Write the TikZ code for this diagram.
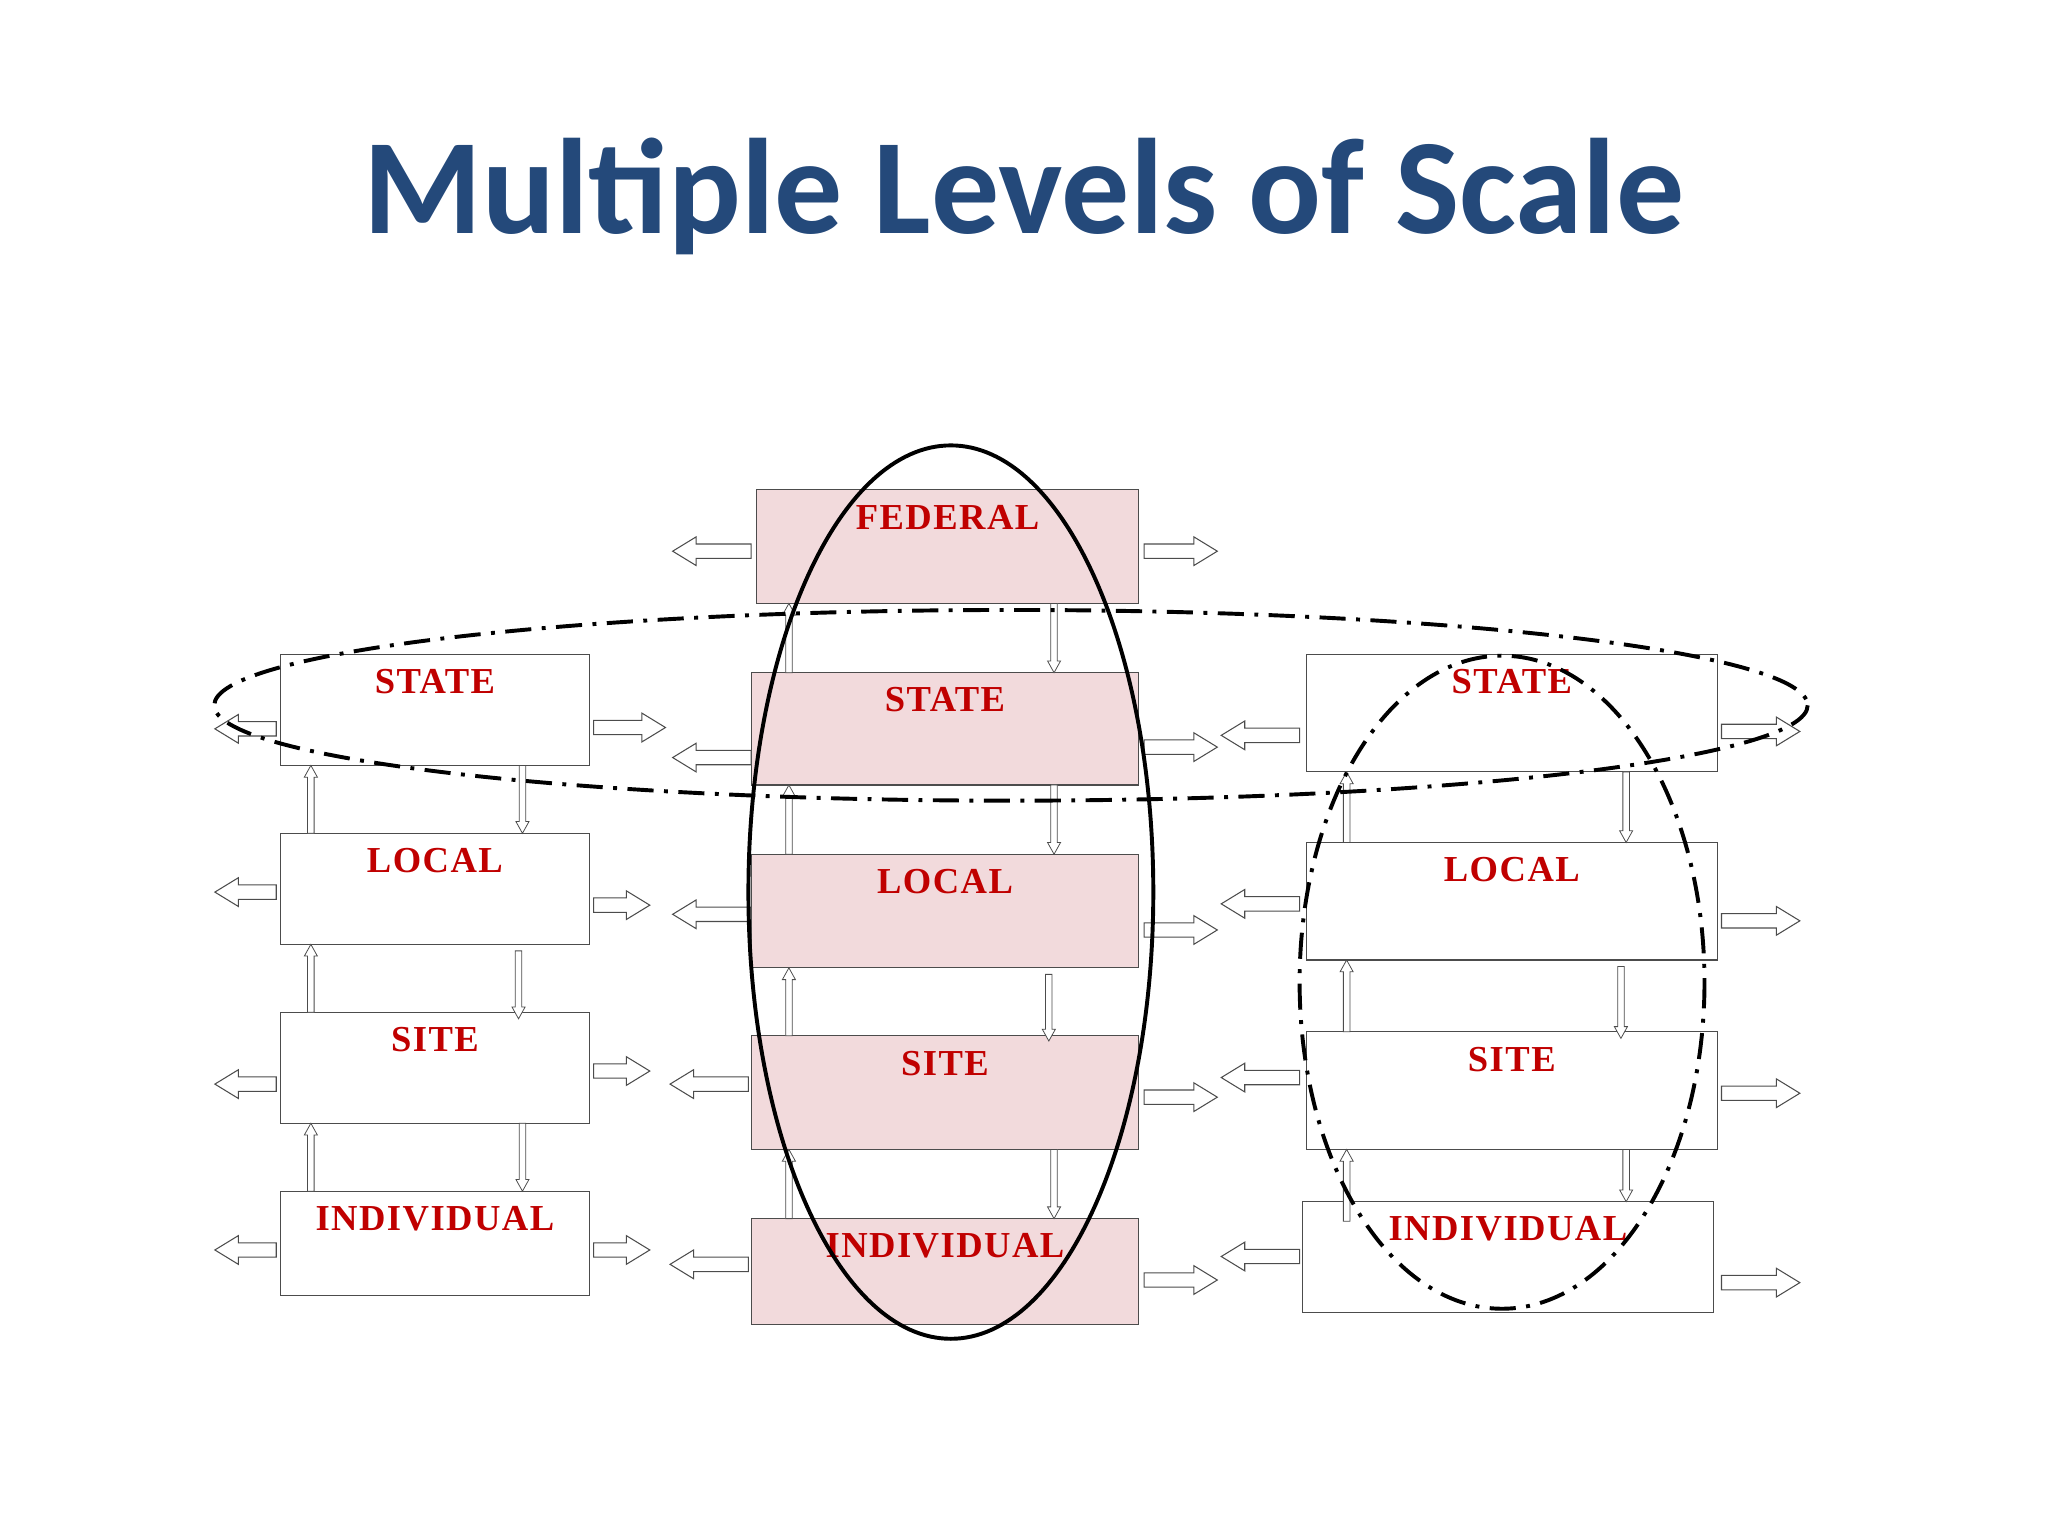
\documentclass[tikz,border=0pt]{standalone}
\usepackage{fontspec}
\setmainfont{Liberation Serif}
\newfontfamily\titlefont{Carlito}
\newfontfamily\lblfont[LetterSpace=4]{Liberation Serif}
\definecolor{titleblue}{HTML}{24497A}
\definecolor{boxred}{HTML}{C00000}
\definecolor{pinkfill}{HTML}{F2DADC}
\begin{document}
\begin{tikzpicture}[x=1pt,y=-1pt,
  lvl/.style={draw=black!70, line width=0.8pt},
  lbl/.style={text=boxred, font=\lblfont\bfseries\fontsize{28}{32}\selectfont},
  arr/.style={draw=black!70, fill=white, line width=0.8pt, line join=miter},
  dd/.style={line width=3pt, dash pattern=on 20pt off 8pt on 3pt off 8pt}]
\useasboundingbox (0,0) rectangle (1568,1176);
\node (title) at (784,150) {\titlefont\bfseries\color{titleblue}\fontsize{104}{118}\selectfont Multiple Levels of Scale};
\foreach \n/\xa/\ya/\xb/\yb/\t/\f in {
 ls/215/501/451/586/STATE/white, ll/215/638/451/723/LOCAL/white, lsi/215/775/451/860/SITE/white, li/215/912/451/992/INDIVIDUAL/white,
 mf/579/375/872/462/FEDERAL/pinkfill, ms/575/515/872/601/STATE/pinkfill, ml/575/654/872/741/LOCAL/pinkfill, msi/575/793/872/880/SITE/pinkfill, mi/575/933/872/1014/INDIVIDUAL/pinkfill,
 rs/1000/501/1315/591/STATE/white, rl/1000/645/1315/735/LOCAL/white, rsi/1000/790/1315/880/SITE/white, ri/997/920/1312/1005/INDIVIDUAL/white}{
  \draw[lvl, fill=\f] (\xa,\ya) rectangle (\xb,\yb);
  \node[lbl, anchor=north] (\n) at ({(\xa+\xb)/2},\ya+8) {\t};
}
\foreach \x/\y/\l/\s in {
 188/558/47/-1, 482/557/55/1, 188/683/47/-1, 476/693/43/1, 188/830/47/-1, 476/820/43/1, 188/957/47/-1, 476/957/43/1,
 545/422/60/-1, 545/580/60/-1, 545/700/60/-1, 543/830/60/-1, 543/968/60/-1,
 904/422/56/1, 904/572/56/1, 904/712/56/1, 904/840/56/1, 904/980/56/1,
 965/563/60/-1, 965/692/60/-1, 965/825/60/-1, 965/962/60/-1,
 1348/560/60/1, 1348/705/60/1, 1348/837/60/1, 1348/982/60/1}{
  \pgfmathsetmacro\tip{\x+\s*\l/2}
  \pgfmathsetmacro\tail{\x-\s*\l/2}
  \pgfmathsetmacro\hb{\tip-\s*18}
  \draw[arr] (\tail,\y-5.5) -- (\hb,\y-5.5) -- (\hb,\y-11) -- (\tip,\y) -- (\hb,\y+11) -- (\hb,\y+5.5) -- (\tail,\y+5.5) -- cycle;
}
\foreach \x/\ya/\yb/\s in {
 238/586/638/-1, 400/586/638/1, 238/723/775/-1, 397/728/780/1, 238/860/912/-1, 400/860/912/1,
 604/462/515/-1, 807/462/515/1, 604/601/654/-1, 807/601/654/1, 604/741/793/-1, 803/746/797/1, 604/880/933/-1, 807/880/933/1,
 1031/591/645/-1, 1245/591/645/1, 1031/735/790/-1, 1241/740/795/1, 1031/880/935/-1, 1245/880/920/1}{
  \pgfmathsetmacro\tip{\s>0 ? \yb : \ya}
  \pgfmathsetmacro\tail{\s>0 ? \ya : \yb}
  \pgfmathsetmacro\hb{\tip-\s*9}
  \draw[arr, line width=0.6pt] (\x-2.5,\tail) -- (\x-2.5,\hb) -- (\x-5,\hb) -- (\x,\tip) -- (\x+5,\hb) -- (\x+2.5,\hb) -- (\x+2.5,\tail) -- cycle;
}
\draw[line width=3pt] (728,683) ellipse [x radius=155, y radius=342];
\draw[dd] (774,540) ellipse [x radius=610, y radius=73];
\draw[dd] (1150,752) ellipse [x radius=155, y radius=250];
\end{tikzpicture}
\end{document}
